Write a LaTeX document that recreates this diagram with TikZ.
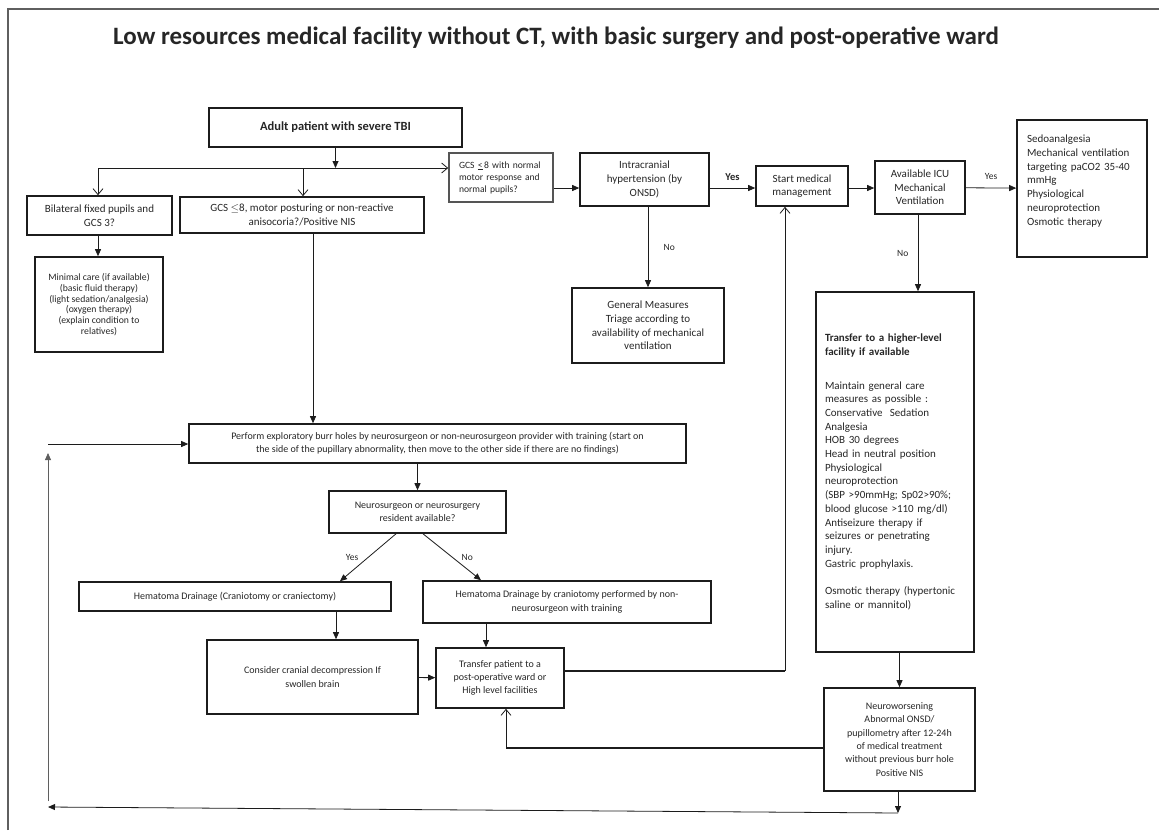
\documentclass[tikz,border=0pt]{standalone}
\usepackage{fontspec}
\setmainfont{Carlito}
\usepackage{tikz}
\usetikzlibrary{shapes,arrows.meta,positioning,calc}
\definecolor{ink}{RGB}{38,38,38}
\definecolor{edge}{RGB}{28,28,28}
\definecolor{framegray}{RGB}{95,95,95}
\definecolor{softedge}{RGB}{85,85,85}

\begin{document}
\begin{tikzpicture}[
            x=1pt, y=-1pt,
            every node/.style={font=\fontsize{11}{13.7}\selectfont, text=ink},
            box/.style={draw=edge, line width=1.6pt, inner sep=0pt, align=center},
            lbox/.style={draw=edge, line width=1.6pt, inner ysep=0pt, align=left},
            txtsm/.style={font=\fontsize{10}{13.3}\selectfont},
            txtxs/.style={font=\fontsize{9.7}{10.7}\selectfont},
            yn/.style={font=\fontsize{9.5}{11}\selectfont},
            arr/.style={draw=edge, line width=0.8pt, -{Triangle[length=7pt,width=6pt]}},
            openarr/.style={draw=edge, line width=0.8pt, -{Straight Barb[length=6pt,width=10pt]}},
            wire/.style={draw=edge, line width=1.6pt},
        ]
            \useasboundingbox (0,0) rectangle (1159,830);
            \draw[framegray, line width=2pt] (8,830) -- (8,9) -- (1159,9);

            \node[font=\bfseries\fontsize{25}{29}\selectfont] (title) at (556,38) {Low resources medical facility without CT, with basic surgery and post-operative ward};

            % top row
            \node[box, minimum width=253pt, minimum height=39pt, font=\bfseries\fontsize{12.5}{15}\selectfont] (adult) at (335.5,127.5) {Adult patient with severe TBI};
            \node[box, minimum width=145pt, minimum height=39pt] (bilat) at (99.5,215.5) {Bilateral fixed pupils and\\GCS 3?};
            \node[box, minimum width=244pt, minimum height=36pt] (gcsmotor) at (302,215) {GCS $\leq$8, motor posturing or non-reactive\\anisocoria?/Positive NIS};
            \node[box, txtxs, minimum width=128pt, minimum height=95pt] (minimal) at (99,304.5) {Minimal care (if available)\\(basic fluid therapy)\\(light sedation/analgesia)\\(oxygen therapy)\\(explain condition to\\relatives)};
            \node[lbox, draw=softedge, font=\fontsize{9.6}{12}\selectfont, text width=84pt, inner xsep=10pt, minimum width=104pt, minimum height=49pt] (gcsnorm) at (501,177.5) {GCS \underline{<}\,8 with normal\\motor response and\\normal pupils?};
            \node[box, minimum width=129pt, minimum height=53pt] (icp) at (644.5,179.5) {Intracranial\\hypertension (by\\ONSD)};
            \node[box, minimum width=92pt, minimum height=40pt] (start) at (802,186) {Start medical\\management};
            \node[box, minimum width=90pt, minimum height=53pt] (icu) at (920,187.5) {Available ICU\\Mechanical\\Ventilation};
            \node[lbox, text width=110pt, inner xsep=10pt, minimum width=130pt, minimum height=137pt] (sedo) at (1082,188.5) {Sedoanalgesia\\Mechanical ventilation\\targeting paCO2 35-40\\mmHg\\Physiological\\neuroprotection\\Osmotic therapy\\[3pt]\mbox{}};
            \node[box, minimum width=152pt, minimum height=75pt] (general) at (648,325.5) {General Measures\\Triage according to\\availability of mechanical\\ventilation};
            \node[lbox, text width=140pt, inner xsep=9pt, minimum width=158pt, minimum height=360pt] (higher) at (895,472) {\textbf{Transfer to a higher-level}\\\textbf{facility if available}\\[20pt]Maintain general care\\measures as possible :\\Conservative~ Sedation\\Analgesia\\HOB 30 degrees\\Head in neutral position\\Physiological\\neuroprotection\\(SBP >90mmHg; Sp02>90\%;\\blood glucose >110 mg/dl)\\Antiseizure therapy if\\seizures or penetrating\\injury.\\Gastric prophylaxis.\\[14pt]Osmotic therapy (hypertonic\\saline or mannitol)};

            % surgical branch
            \node[box, txtsm, minimum width=497pt, minimum height=39pt] (perform) at (437.5,443.5) {Perform exploratory burr holes by neurosurgeon or non-neurosurgeon provider with training (start on\\the side of the pupillary abnormality, then move to the other side if there are no findings)};
            \node[box, txtsm, minimum width=177pt, minimum height=42pt] (neuro) at (417.5,512) {Neurosurgeon or neurosurgery\\resident available?};
            \node[box, txtsm, minimum width=312pt, minimum height=29pt] (hemleft) at (235,596.5) {Hematoma Drainage (Craniotomy or craniectomy)};
            \node[box, txtsm, minimum width=288pt, minimum height=42pt] (hemright) at (567,602) {Hematoma Drainage by craniotomy performed by non-\\neurosurgeon with training};
            \node[box, txtsm, minimum width=211pt, minimum height=74pt] (consider) at (312.5,677) {Consider cranial decompression If\\swollen brain};
            \node[box, txtsm, minimum width=128pt, minimum height=60pt] (transfer) at (500,678) {Transfer patient to a\\post-operative ward or\\High level facilities};
            \node[box, txtsm, minimum width=151pt, minimum height=103pt] (worsen) at (899.5,739.5) {Neuroworsening\\Abnormal ONSD/\\pupillometry after 12-24h\\of medical treatment\\without previous burr hole\\Positive NIS};

            % branch points
            \coordinate (split) at (335.5,168);
            \coordinate (brL) at (98,168);
            \coordinate (brM) at (303,168);
            \coordinate (upc) at (785,671);
            \coordinate (backc) at (506,748);
            \coordinate (lowr) at (898,813);
            \coordinate (lowl) at (48,807);
            \coordinate (loopbot) at (48,801);
            \coordinate (looptop) at (48,453);
            \coordinate (loopin) at (48,444);

            \draw[arr] (adult) -- (split);
            \draw[openarr] (brL) -- (gcsnorm.west |- brL);
            \draw[openarr] (brL) -- (bilat.north -| brL);
            \draw[openarr] (brM) -- (gcsmotor.north -| brM);
            \draw[arr] (bilat.south -| brL) -- (minimal.north -| brL);
            \draw[arr] ([xshift=11pt]gcsmotor.south) -- ([xshift=11pt]gcsmotor.south |- perform.north);

            \draw[arr] ([yshift=-10.5pt]gcsnorm.east) -- ([yshift=-8.5pt]icp.west);
            \draw[arr] ([yshift=-8.5pt]icp.east) -- node[above=4pt, yn, font=\bfseries\fontsize{10.5}{12}\selectfont] {Yes} ([yshift=-2pt]start.west);
            \draw[arr] ([yshift=-2pt]start.east) -- ([yshift=-0.5pt]icu.west);
            \draw[arr] (icu) -- node[above=5pt, yn] {Yes} (sedo);
            \draw[arr] (icp.south -| general.north) -- node[right=12pt, yn] {No} (general.north);
            \draw[arr] ([xshift=-2pt]icu.south) -- node[left=6pt, yn] {No} ([xshift=-2pt]icu.south |- higher.north);
            \draw[arr] (higher.south -| worsen.north) -- (worsen.north);

            \draw[arr] (perform.south -| neuro.north) -- (neuro.north);
            \draw[arr] ([xshift=-21.5pt]neuro.south) -- node[left=6pt, yn] {Yes} ([xshift=105pt]hemleft.north);
            \draw[arr] ([xshift=5.5pt]neuro.south) -- node[right=6pt, yn] {No} ([xshift=-86pt]hemright.north);
            \draw[arr] ([xshift=101pt]hemleft.south) -- ([xshift=23.5pt]consider.north);
            \draw[arr] ([xshift=-81pt]hemright.south) -- ([xshift=-14pt]transfer.north);
            \draw[arr] (consider) -- (transfer);

            \draw[wire] (transfer.east |- upc) -- (upc);
            \draw[openarr] (upc) -- (start.south -| upc);
            \draw[wire] (worsen.west |- backc) -- (backc);
            \draw[openarr] (backc) -- (transfer.south -| backc);

            \draw[arr] (worsen.south -| lowr) -- (lowr);
            \draw[arr] (lowr) -- (lowl);
            \draw[arr, draw=framegray] (loopbot) -- (looptop);
            \draw[arr] (loopin) -- (perform.west |- loopin);
        \end{tikzpicture}
\end{document}
